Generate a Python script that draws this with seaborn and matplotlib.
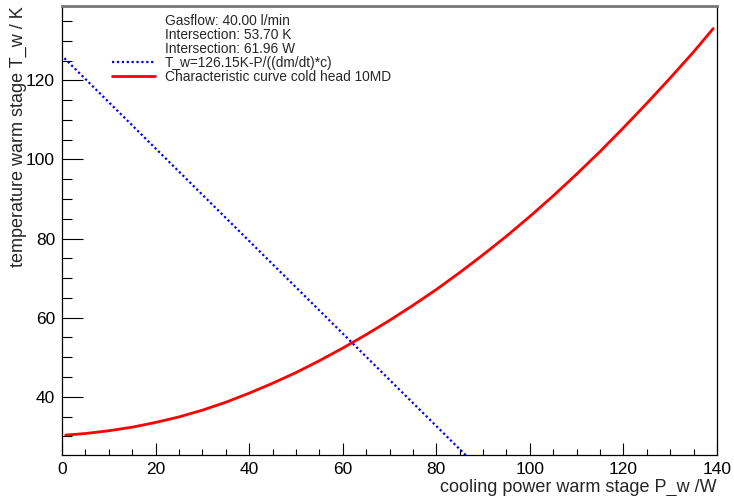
import numpy as np
import pandas as pd
import seaborn as sns
import matplotlib
matplotlib.use("Agg")
import matplotlib.pyplot as plt
from matplotlib.lines import Line2D
from matplotlib.ticker import MultipleLocator

# ---- data ----
curve_P = [0.8, 5, 10, 15, 20, 25, 30, 35, 40, 45, 50, 55, 60, 65, 70, 75, 80, 85,
           90, 95, 100, 105, 110, 115, 120, 125, 130, 135, 139.2]
curve_T = [30.3, 30.7, 31.4, 32.3, 33.5, 34.9, 36.6, 38.6, 40.9, 43.4, 46.1, 49.1,
           52.3, 55.7, 59.3, 63.1, 67.1, 71.4, 75.9, 80.6, 85.6, 90.8, 96.3, 102.0,
           108.0, 114.2, 120.6, 127.2, 133.1]
line_P = [0.5, 87.0]
line_T = [125.6, 24.4]

legend_info = ["Gasflow: 40.00 l/min", "Intersection: 53.70 K", "Intersection: 61.96 W"]
label_line = "T_w=126.15K-P/((dm/dt)*c)"
label_curve = "Characteristic curve cold head 10MD"
xlabel = "cooling power warm stage P_w /W"
ylabel = "temperature warm stage T_w / K"

sns.set_style("white")
plt.rcParams["font.family"] = ["Liberation Sans", "DejaVu Sans"]

fig = plt.figure(figsize=(7.34, 4.96), dpi=100)
ax = fig.add_axes([62/734, 1-455/496, 655/734, 449/496])

df_line = pd.DataFrame({"P": line_P, "T": line_T})
df_curve = pd.DataFrame({"P": curve_P, "T": curve_T})
sns.lineplot(data=df_line, x="P", y="T", ax=ax, color="#0000ff", lw=1.6,
             linestyle=(0, (1, 1.2)), sort=False)
sns.lineplot(data=df_curve, x="P", y="T", ax=ax, color="#ff0000", lw=2.0, sort=False)

ax.set_xlim(0, 140)
ax.set_ylim(25.27, 138.8)

ax.xaxis.set_major_locator(MultipleLocator(20))
ax.xaxis.set_minor_locator(MultipleLocator(5))
ax.yaxis.set_major_locator(MultipleLocator(20))
ax.yaxis.set_minor_locator(MultipleLocator(5))
ax.tick_params(axis="both", which="both", direction="in", top=False, right=False,
               bottom=True, left=True,
               width=0.8, color="black", labelsize=12.5, labelcolor="black")
ax.tick_params(axis="x", which="major", length=9, pad=5)
ax.tick_params(axis="x", which="minor", length=4.5)
ax.tick_params(axis="y", which="major", length=15, pad=5)
ax.tick_params(axis="y", which="minor", length=7.5)

for s in ["left", "bottom", "right"]:
    ax.spines[s].set_visible(True)
    ax.spines[s].set_color("black")
    ax.spines[s].set_linewidth(0.9)
ax.spines["top"].set_visible(True)
ax.spines["top"].set_color("#777777")
ax.spines["top"].set_linewidth(2)

ax.set_xlabel(xlabel, fontsize=13, loc="right")
ax.set_ylabel(ylabel, fontsize=13, loc="top")
ax.xaxis.set_label_coords(1.0, -0.053)
ax.yaxis.set_label_coords(-0.053, 1.0)

handles = [Line2D([], [], color="none") for _ in legend_info]
handles.append(Line2D([], [], color="#0000ff", lw=1.6, linestyle=(0, (1, 1.2))))
handles.append(Line2D([], [], color="#ff0000", lw=2.0))
labels = legend_info + [label_line, label_curve]
leg = ax.legend(handles, labels, loc="upper left", bbox_to_anchor=(112/734, 1-14/496),
                bbox_transform=fig.transFigure, frameon=False, fontsize=9.9,
                handlelength=3.1, handletextpad=0.73, labelspacing=0.0, borderpad=0,
                borderaxespad=0)

fig.savefig("out.png", dpi=100)
